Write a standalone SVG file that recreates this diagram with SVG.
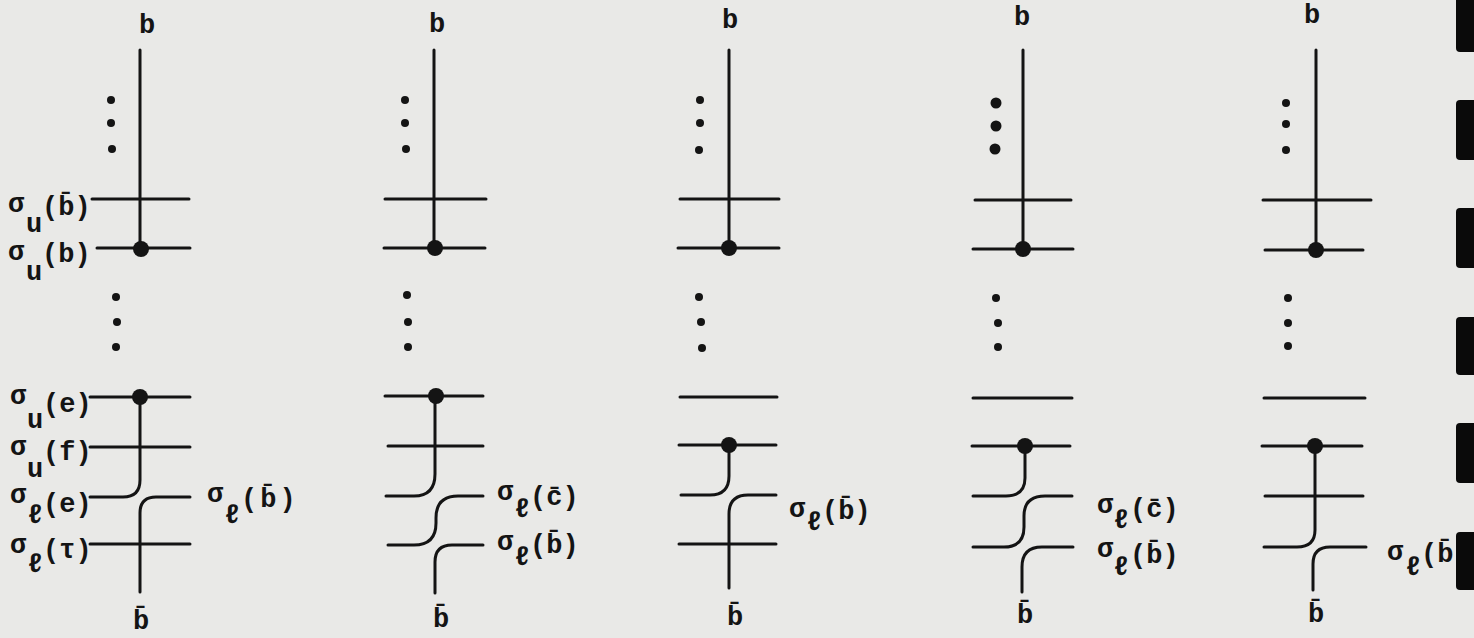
<svg xmlns="http://www.w3.org/2000/svg" width="1474" height="638" viewBox="0 0 1474 638">
<style>
.w{stroke:#141414;stroke-width:3;fill:none;stroke-linecap:round;stroke-linejoin:round}
.dot{fill:#141414}
.t{font-family:"Liberation Mono","DejaVu Sans Mono",monospace;font-size:27px;font-weight:bold;fill:#141414}
.c{text-anchor:middle}
.mark{fill:#0a0a0a}
</style>
<rect width="1474" height="638" fill="#e9e9e7"/>

<g id="panel-1">
  <text class="t c" x="147" y="33">b</text>
  <circle class="dot" cx="111" cy="100" r="4"/><circle class="dot" cx="111" cy="123" r="4"/><circle class="dot" cx="112" cy="149" r="4"/>
  <circle class="dot" cx="116" cy="297" r="4"/><circle class="dot" cx="117" cy="322" r="4"/><circle class="dot" cx="116" cy="347" r="4"/>
  <text class="t"><tspan x="8" y="212">σ</tspan><tspan x="26" y="232">u</tspan><tspan x="42" y="215">(b̄)</tspan></text>
  <text class="t"><tspan x="8" y="260">σ</tspan><tspan x="26" y="280">u</tspan><tspan x="42" y="262">(b)</tspan></text>
  <text class="t"><tspan x="10" y="404">σ</tspan><tspan x="27" y="428">u</tspan><tspan x="43" y="412">(e)</tspan></text>
  <text class="t"><tspan x="10" y="455">σ</tspan><tspan x="27" y="477">u</tspan><tspan x="43" y="460">(f)</tspan></text>
  <text class="t"><tspan x="10" y="503">σ</tspan><tspan x="27" y="523">ℓ</tspan><tspan x="43" y="512">(e)</tspan></text>
  <text class="t"><tspan x="10" y="553">σ</tspan><tspan x="27" y="572">ℓ</tspan><tspan x="43" y="558">(τ)</tspan></text>
  <text class="t" style="letter-spacing:3px"><tspan x="207" y="502">σ</tspan><tspan x="224" y="523">ℓ</tspan><tspan x="241" y="507">(b̄)</tspan></text>
  <text class="t c" x="141" y="629">b̄</text>
</g>

<g id="panel-2">
  <text class="t c" x="437" y="32">b</text>
  <circle class="dot" cx="405" cy="100" r="4"/><circle class="dot" cx="405" cy="123" r="4"/><circle class="dot" cx="406" cy="149" r="4"/>
  <circle class="dot" cx="407" cy="295" r="4"/><circle class="dot" cx="408" cy="322" r="4"/><circle class="dot" cx="408" cy="347" r="4"/>
  <text class="t"><tspan x="497" y="500">σ</tspan><tspan x="514" y="517">ℓ</tspan><tspan x="530" y="505">(c̄)</tspan></text>
  <text class="t"><tspan x="497" y="550">σ</tspan><tspan x="514" y="565">ℓ</tspan><tspan x="530" y="553">(b̄)</tspan></text>
  <text class="t c" x="441" y="627">b̄</text>
</g>

<g id="panel-3">
  <text class="t c" x="730" y="28">b</text>
  <circle class="dot" cx="700" cy="100" r="4"/><circle class="dot" cx="700" cy="123" r="4"/><circle class="dot" cx="699" cy="150" r="4"/>
  <circle class="dot" cx="699" cy="297" r="4"/><circle class="dot" cx="701" cy="322" r="4"/><circle class="dot" cx="702" cy="348" r="4"/>
  <text class="t"><tspan x="789" y="517">σ</tspan><tspan x="806" y="530">ℓ</tspan><tspan x="822" y="519">(b̄)</tspan></text>
  <text class="t c" x="735" y="625">b̄</text>
</g>

<g id="panel-4">
  <text class="t c" x="1022" y="25">b</text>
  <circle class="dot" cx="996" cy="103" r="5.5"/><circle class="dot" cx="996" cy="126" r="5.5"/><circle class="dot" cx="995" cy="149" r="5.5"/>
  <circle class="dot" cx="996" cy="298" r="4"/><circle class="dot" cx="998" cy="323" r="4"/><circle class="dot" cx="998" cy="347" r="4"/>
  <text class="t"><tspan x="1097" y="513">σ</tspan><tspan x="1113" y="528">ℓ</tspan><tspan x="1130" y="517">(c̄)</tspan></text>
  <text class="t"><tspan x="1097" y="557">σ</tspan><tspan x="1113" y="575">ℓ</tspan><tspan x="1130" y="563">(b̄)</tspan></text>
  <text class="t c" x="1025" y="623">b̄</text>
</g>

<g id="panel-5">
  <text class="t c" x="1312" y="23">b</text>
  <circle class="dot" cx="1286" cy="103" r="4"/><circle class="dot" cx="1286" cy="124" r="4"/><circle class="dot" cx="1286" cy="150" r="4"/>
  <circle class="dot" cx="1288" cy="298" r="4"/><circle class="dot" cx="1288" cy="323" r="4"/><circle class="dot" cx="1288" cy="346" r="4"/>
  <text class="t"><tspan x="1387" y="560">σ</tspan><tspan x="1405" y="575">ℓ</tspan><tspan x="1421" y="562">(b̄</tspan></text>
  <text class="t c" x="1316" y="622">b̄</text>
</g>

<g id="connectors">
  <!-- panel 1 -->
  <path class="w" d="M140,50 V248"/>
  <path class="w" d="M92,199 H189"/>
  <path class="w" d="M97,248 H190"/>
  <path class="w" d="M90,397 H190"/>
  <path class="w" d="M90,447 H190"/>
  <path class="w" d="M140,397 V480 Q140,497 123,497 H90"/>
  <path class="w" d="M190,497 H156 Q140,497 140,513 V592"/>
  <path class="w" d="M90,544 H190"/>
  <circle class="dot" cx="141" cy="249" r="8"/>
  <circle class="dot" cx="140" cy="397" r="8"/>
  <!-- panel 2 -->
  <path class="w" d="M434,50 V248"/>
  <path class="w" d="M385,199 H486"/>
  <path class="w" d="M384,248 H485"/>
  <path class="w" d="M385,396 H483"/>
  <path class="w" d="M388,446 H483"/>
  <path class="w" d="M435,396 V474 Q435,496 414,496 H386"/>
  <path class="w" d="M483,496 H458 Q436,496 436,518 V523 Q436,545 414,545 H388"/>
  <path class="w" d="M483,545 H452 Q435,545 435,562 V593"/>
  <circle class="dot" cx="435" cy="248" r="8"/>
  <circle class="dot" cx="436" cy="396" r="8"/>
  <!-- panel 3 -->
  <path class="w" d="M729,50 V248"/>
  <path class="w" d="M680,199 H779"/>
  <path class="w" d="M678,248 H779"/>
  <path class="w" d="M680,397 H777"/>
  <path class="w" d="M679,445 H776"/>
  <path class="w" d="M729,445 V476 Q729,495 710,495 H681"/>
  <path class="w" d="M776,495 H748 Q729,495 729,514 V588"/>
  <path class="w" d="M679,544 H776"/>
  <circle class="dot" cx="729" cy="248" r="8"/>
  <circle class="dot" cx="729" cy="445" r="8"/>
  <!-- panel 4 -->
  <path class="w" d="M1023,50 V249"/>
  <path class="w" d="M975,200 H1071"/>
  <path class="w" d="M973,249 H1073"/>
  <path class="w" d="M973,398 H1072"/>
  <path class="w" d="M972,446 H1070"/>
  <path class="w" d="M1025,446 V478 Q1025,496 1006,496 H973"/>
  <path class="w" d="M1072,496 H1045 Q1024,496 1024,516 V527 Q1024,547 1004,547 H973"/>
  <path class="w" d="M1073,547 H1042 Q1022,547 1022,567 V592"/>
  <circle class="dot" cx="1023" cy="249" r="8"/>
  <circle class="dot" cx="1025" cy="446" r="8"/>
  <!-- panel 5 -->
  <path class="w" d="M1316,50 V250"/>
  <path class="w" d="M1263,200 H1371"/>
  <path class="w" d="M1265,250 H1363"/>
  <path class="w" d="M1264,398 H1365"/>
  <path class="w" d="M1262,446 H1362"/>
  <path class="w" d="M1265,496 H1363"/>
  <path class="w" d="M1315,446 V530 Q1315,547 1297,547 H1264"/>
  <path class="w" d="M1366,547 H1330 Q1313,547 1313,564 V590"/>
  <circle class="dot" cx="1316" cy="250" r="8"/>
  <circle class="dot" cx="1315" cy="446" r="8"/>
</g>

<g id="edge-marks">
  <rect class="mark" x="1456" y="-4" width="22" height="56" rx="4"/>
  <rect class="mark" x="1456" y="100" width="22" height="60" rx="4"/>
  <rect class="mark" x="1456" y="208" width="22" height="60" rx="4"/>
  <rect class="mark" x="1456" y="317" width="22" height="58" rx="4"/>
  <rect class="mark" x="1456" y="423" width="22" height="60" rx="4"/>
  <rect class="mark" x="1456" y="532" width="22" height="58" rx="4"/>
</g>
</svg>
